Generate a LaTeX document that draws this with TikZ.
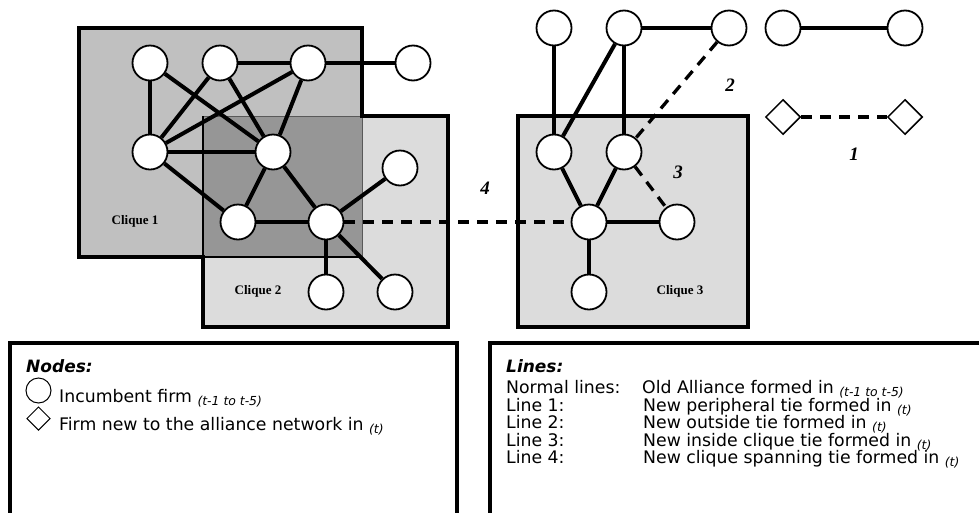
\documentclass[tikz,border=0pt]{standalone}
\usepackage{fontspec}
\setmainfont{DejaVu Sans}
\newfontfamily\labelserif{Liberation Serif}
\usetikzlibrary{shapes.geometric}
\pgfdeclarelayer{back}
\pgfdeclarelayer{mid}
\pgfsetlayers{back,mid,main}
% small lowered italic period marker
\newcommand\periodsub[1]{\raisebox{-3pt}{\fontsize{12.4}{12.4}\selectfont\itshape #1}}
\definecolor{cliqueA}{HTML}{C0C0C0}
\definecolor{cliqueB}{HTML}{DCDCDC}
\definecolor{cliqueAB}{HTML}{969696}
\begin{document}
\begin{tikzpicture}[x=1pt,y=-1pt,
  firm/.style={circle,draw,fill=white,line width=1.8pt,minimum size=35pt,inner sep=0pt},
  newfirm/.style={diamond,draw,fill=white,line width=1.5pt,minimum size=35pt,inner sep=0pt},
  tie/.style={line width=4pt},
  newtie/.style={line width=3.3pt,dash pattern=on 11pt off 8pt},
  cliquebox/.style={line width=4.3pt,line join=miter},
  cliquelabel/.style={font=\labelserif\bfseries\fontsize{13}{13}\selectfont,anchor=base},
  tielabel/.style={font=\labelserif\bfseries\itshape\fontsize{19}{19}\selectfont,anchor=base},
  legendtitle/.style={font=\bfseries\itshape\fontsize{17}{17}\selectfont,anchor=base west,inner sep=0pt},
  legendtext/.style={font=\fontsize{17.3}{17.3}\selectfont,anchor=base west,inner sep=0pt},
  legendbox/.style={line width=3.2pt}
]
\useasboundingbox (0,0) rectangle (979,512);

% ---- clique areas ----
\begin{pgfonlayer}{back}
  \fill[cliqueA] (79,28) rectangle (362,257);
  \fill[cliqueB] (203,116) rectangle (448,327);
  \fill[cliqueAB] (203,116) rectangle (362,257);
  \draw[black!65,line width=1pt] (203,116) -- (362,116) -- (362,257);
  \draw[line width=1.8pt] (203,116) -- (203,257) -- (362,257);
  \draw[cliquebox] (79,28) -- (362,28) -- (362,116) -- (448,116) -- (448,327)
     -- (203,327) -- (203,257) -- (79,257) -- cycle;
  \fill[cliqueB] (518,116) rectangle (748,327);
  \draw[cliquebox] (518,116) rectangle (748,327);
\end{pgfonlayer}

% ---- firms ----
\node[firm] (a1) at (150,63) {};
\node[firm] (a2) at (220,63) {};
\node[firm] (a3) at (308,63) {};
\node[firm] (a4) at (413,63) {};
\node[firm] (b1) at (150,152) {};
\node[firm] (b2) at (273,152) {};
\node[firm] (c1) at (400,168) {};
\node[firm] (d1) at (238,222) {};
\node[firm] (d2) at (326,222) {};
\node[firm] (e1) at (326,292) {};
\node[firm] (e2) at (395,292) {};

\node[firm] (g1) at (554,28) {};
\node[firm] (g2) at (624,28) {};
\node[firm] (g3) at (729,28) {};
\node[firm] (g4) at (783,28) {};
\node[firm] (g5) at (905,28) {};
\node[newfirm] (h1) at (783,117) {};
\node[newfirm] (h2) at (905,117) {};

\node[firm] (i1) at (554,152) {};
\node[firm] (i2) at (624,152) {};
\node[firm] (f) at (589,222) {};
\node[firm] (j) at (677,222) {};
\node[firm] (k) at (589,292) {};

% ---- ties ----
\begin{pgfonlayer}{mid}
  \draw[tie] (a1) -- (b1);
  \draw[tie] (a1) -- (b2);
  \draw[tie] (a2) -- (b1);
  \draw[tie] (a2) -- (b2);
  \draw[tie] (a2) -- (a3);
  \draw[tie] (a3) -- (b1);
  \draw[tie] (a3) -- (b2);
  \draw[tie] (a3) -- (a4);
  \draw[tie] (b1) -- (b2);
  \draw[tie] (b1) -- (d1);
  \draw[tie] (b2) -- (d1);
  \draw[tie] (b2) -- (d2);
  \draw[tie] (d1) -- (d2);
  \draw[tie] (d2) -- (c1);
  \draw[tie] (d2) -- (e1);
  \draw[tie] (d2) -- (e2);

  \draw[tie] (g1) -- (i1);
  \draw[tie] (g2) -- (i1);
  \draw[tie] (g2) -- (i2);
  \draw[tie] (g2) -- (g3);
  \draw[tie] (g4) -- (g5);
  \draw[tie] (i1) -- (f);
  \draw[tie] (i2) -- (f);
  \draw[tie] (f) -- (j);
  \draw[tie] (f) -- (k);

  \draw[newtie] (h1) -- (h2);
  \draw[newtie] (g3) -- (i2);
  \draw[newtie] (i2) -- (j);
  \draw[newtie] (d2) -- (f);
\end{pgfonlayer}

% ---- labels ----
\node[cliquelabel] (lc1) at (135,224) {Clique 1};
\node[cliquelabel] (lc2) at (258,294) {Clique 2};
\node[cliquelabel] (lc3) at (680,294) {Clique 3};
\node[tielabel] (t1) at (854,160) {1};
\node[tielabel] (t2) at (730,91) {2};
\node[tielabel] (t3) at (678,178) {3};
\node[tielabel] (t4) at (485,194) {4};

% ---- legends ----
\begin{scope}
  \clip (0,0) rectangle (979,512);
  \draw[legendbox] (10,343) rectangle (457,540);
  \draw[legendbox] (490,343) rectangle (1000,540);
\end{scope}

\node[legendtitle] (nodes) at (26,372) {Nodes:};
\node[circle,draw,line width=1pt,minimum size=25pt,inner sep=0pt] (kcirc) at (38.5,390.5) {};
\node[legendtext] (kcirctext) at (59,402) {Incumbent firm \periodsub{(t-1 to t-5)}};
\node[diamond,draw,line width=1pt,minimum size=23.5pt,inner sep=0pt] (kdiam) at (38.5,418.5) {};
\node[legendtext] (kdiamtext) at (59,430) {Firm new to the alliance network in \periodsub{(t)}};

\node[legendtitle] (lines) at (506,372) {Lines:};
\node[legendtext] (l0) at (506,393.3) {Normal lines:};
\node[legendtext] (l0d) at (642,393.3) {Old Alliance formed in \periodsub{(t-1 to t-5)}};
\node[legendtext] (l1) at (506,411) {Line 1:};
\node[legendtext] (l1d) at (643,411) {New peripheral tie formed in \periodsub{(t)}};
\node[legendtext] (l2) at (506,428.5) {Line 2:};
\node[legendtext] (l2d) at (643,428.5) {New outside tie formed in \periodsub{(t)}};
\node[legendtext] (l3) at (506,446) {Line 3:};
\node[legendtext] (l3d) at (643,446) {New inside clique tie formed in \periodsub{(t)}};
\node[legendtext] (l4) at (506,463.5) {Line 4:};
\node[legendtext] (l4d) at (643,463.5) {New clique spanning tie formed in \periodsub{(t)}};
\end{tikzpicture}
\end{document}
